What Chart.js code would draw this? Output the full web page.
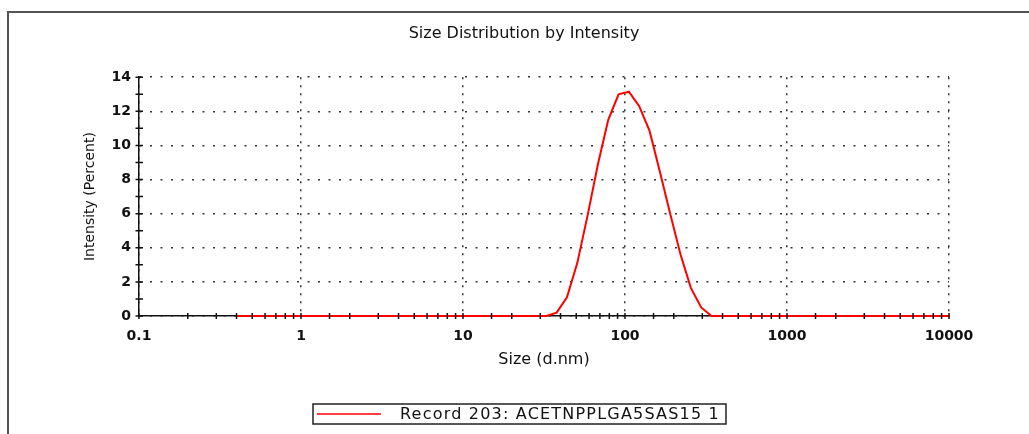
<!DOCTYPE html>
<html>
<head>
<meta charset="utf-8">
<script src="https://cdn.jsdelivr.net/npm/chart.js@4.4.1/dist/chart.umd.min.js"></script>
<style>
  html, body { margin: 0; padding: 0; background: #fff; overflow: hidden; }
  #frame { position: absolute; left: 7px; top: 11px; width: 1100px; height: 500px;
           border-top: 2px solid #555; border-left: 2px solid #555; }
  #chart { position: absolute; left: 0; top: 0; }
</style>
</head>
<body>
<div id="frame"></div>
<canvas id="chart" width="1029" height="434"></canvas>
<script>
const chartTitle = 'Size Distribution by Intensity';
const xTitle = 'Size (d.nm)';
const yTitle = 'Intensity (Percent)';
const seriesLabel = 'Record 203: ACETNPPLGA5SAS15 1';

// size classes (d.nm)
const sizes = [
  0.4, 0.4632, 0.5365, 0.6213, 0.7195, 0.8332, 0.9649, 1.117, 1.294, 1.499,
  1.736, 2.01, 2.328, 2.696, 3.122, 3.615, 4.187, 4.849, 5.615, 6.503,
  7.531, 8.721, 10.1, 11.7, 13.54, 15.69, 18.17, 21.04, 24.36, 28.21,
  32.67, 37.84, 43.82, 50.75, 58.77, 68.06, 78.82, 91.28, 105.7, 122.4,
  141.8, 164.2, 190.1, 220.2, 255.0, 295.3, 342.0, 396.1, 458.7, 531.2,
  615.1, 712.4, 825.0, 955.4, 1106, 1281, 1484, 1718, 1990, 2305,
  2669, 3091, 3580, 4145, 4801, 5560, 6439, 7456, 8635, 10000
];
// intensity (%)
const intensity = [
  0, 0, 0, 0, 0, 0, 0, 0, 0, 0,
  0, 0, 0, 0, 0, 0, 0, 0, 0, 0,
  0, 0, 0, 0, 0, 0, 0, 0, 0, 0,
  0, 0.2, 1.1, 3.1, 5.9, 8.9, 11.5, 13.0, 13.15, 12.3,
  10.85, 8.45, 6.0, 3.6, 1.65, 0.5, 0, 0, 0, 0,
  0, 0, 0, 0, 0, 0, 0, 0, 0, 0,
  0, 0, 0, 0, 0, 0, 0, 0, 0, 0
];

const xMin = 0.1, xMax = 10000;
const yMin = 0, yMax = 14, yStep = 2, yMinorStep = 1;

const isPow10 = v => Math.abs(Math.log10(v) - Math.round(Math.log10(v))) < 1e-6;

// small cross ticks on both axes
const tickMarks = {
  id: 'tickMarks',
  afterDraw(chart) {
    const {ctx, scales: {x, y}} = chart;
    ctx.save();
    ctx.strokeStyle = '#111';
    ctx.lineWidth = 1.5;
    ctx.beginPath();
    for (let v = y.min; v <= y.max; v += yMinorStep) {
      const py = y.getPixelForValue(v);
      ctx.moveTo(x.left - 3.5, py);
      ctx.lineTo(x.left + 4, py);
    }
    x.ticks.forEach(t => {
      const px = x.getPixelForValue(t.value);
      ctx.moveTo(px, y.bottom - 3);
      ctx.lineTo(px, y.bottom + 3);
    });
    ctx.stroke();
    ctx.restore();
  }
};

// boxed legend under the plot
const boxLegend = {
  id: 'boxLegend',
  afterDraw(chart) {
    const ctx = chart.ctx;
    const ds = chart.data.datasets[0];
    ctx.save();
    ctx.font = '16px "DejaVu Sans"';
    ctx.letterSpacing = '1.2px';
    const tw = ctx.measureText(ds.label).width;
    const left = 313, top = 404, h = 20;
    const textX = 400;
    const right = textX + tw + 6;
    ctx.strokeStyle = '#222';
    ctx.lineWidth = 1.5;
    ctx.strokeRect(left, top, right - left, h);
    ctx.strokeStyle = ds.borderColor;
    ctx.lineWidth = 1.5;
    ctx.beginPath();
    ctx.moveTo(left + 4, top + h / 2);
    ctx.lineTo(left + 68, top + h / 2);
    ctx.stroke();
    ctx.fillStyle = '#111';
    ctx.textBaseline = 'middle';
    ctx.fillText(ds.label, textX, top + h / 2 + 1);
    ctx.restore();
  }
};

new Chart(document.getElementById('chart'), {
  type: 'line',
  data: {
    datasets: [{
      label: seriesLabel,
      data: sizes.map((s, i) => ({x: s, y: intensity[i]})),
      borderColor: '#ff0000',
      borderWidth: 2,
      pointRadius: 0,
      tension: 0,
      fill: false,
      clip: 3
    }]
  },
  options: {
    responsive: false,
    animation: false,
    devicePixelRatio: 1,
    layout: { padding: { left: 99, right: 80, top: 0, bottom: 58 } },
    plugins: {
      legend: { display: false },
      tooltip: { enabled: false },
      title: {
        display: true,
        text: chartTitle,
        color: '#111',
        font: { family: 'DejaVu Sans', size: 16, weight: 'normal' },
        padding: { top: 24, bottom: 34 }
      }
    },
    scales: {
      x: {
        type: 'logarithmic',
        min: xMin,
        max: xMax,
        afterFit: s => { s.height = 60; },
        border: { display: true, color: '#111', width: 1.5, dash: [2, 6] },
        grid: {
          drawTicks: false,
          color: c => (c.tick && isPow10(c.tick.value)) ? '#333' : 'rgba(0,0,0,0)',
          lineWidth: 1.5
        },
        ticks: {
          autoSkip: false,
          maxRotation: 0,
          padding: 12,
          color: '#111',
          font: { family: 'DejaVu Sans', size: 14, weight: 'bold' },
          callback: v => isPow10(v) ? String(+v.toPrecision(6)) : ''
        },
        title: {
          display: true,
          text: xTitle,
          color: '#111',
          font: { family: 'DejaVu Sans', size: 16, weight: 'normal' },
          padding: { top: 0, bottom: 7 }
        }
      },
      y: {
        min: yMin,
        max: yMax,
        afterFit: s => { s.width = 40; },
        border: { display: true, color: '#111', width: 1.5, dash: [2, 8.5] },
        grid: {
          drawTicks: false,
          color: '#333',
          lineWidth: 1.5
        },
        ticks: {
          stepSize: yStep,
          padding: 8,
          color: '#111',
          font: { family: 'DejaVu Sans', size: 14, weight: 'bold' }
        },
        title: {
          display: true,
          text: yTitle,
          color: '#111',
          font: { family: 'DejaVu Sans', size: 14, weight: 'normal' },
          padding: { top: -17.5, bottom: 0 }
        }
      }
    }
  },
  plugins: [tickMarks, boxLegend]
});
</script>
</body>
</html>
